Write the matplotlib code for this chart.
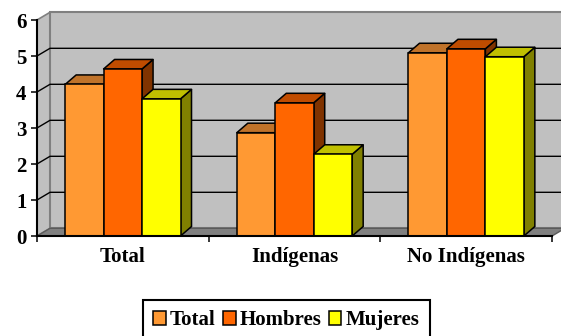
#
# Grouped 3D-style column chart: Total / Hombres / Mujeres by population group
#
import matplotlib.pyplot as plt
from matplotlib.patches import Polygon, Patch

categories = ['Total', 'Indígenas', 'No Indígenas']
series = ['Total', 'Hombres', 'Mujeres']
total = [4.21, 2.87, 5.09]
hombres = [4.64, 3.70, 5.20]
mujeres = [3.81, 2.27, 4.98]
yticks = [0, 1, 2, 3, 4, 5, 6]

front = ['#FF9933', '#FF6600', '#FFFF00']
top = ['#C0732A', '#C04C00', '#C0C000']
side = ['#804C19', '#803300', '#808000']

plt.rcParams['font.family'] = 'Liberation Serif'
plt.rcParams['font.weight'] = 'bold'

fig = plt.figure(figsize=(5.61, 3.36), dpi=100)
ax = fig.add_axes([37/561, 100/336, 515/561, 216/336])
ax.set_xlim(0, 3)
ax.set_ylim(0, 6)

# depth offsets in data units (walls and bars)
px_x = 3/515
px_y = 6/216
wx, wy = 13*px_x, 7.7*px_y
bx, by = 11*px_x, 9.5*px_y

# walls and floor
ax.add_patch(Polygon([(0, 0), (0, 6), (wx, 6+wy), (wx, wy)], closed=True,
                     fc='#C0C0C0', ec='#808080', lw=1.2, zorder=0, clip_on=False))
ax.add_patch(Polygon([(wx, wy), (wx, 6+wy), (3+wx, 6+wy), (3+wx, wy)], closed=True,
                     fc='#C0C0C0', ec='#808080', lw=1.5, zorder=0, clip_on=False))
ax.add_patch(Polygon([(0, 0), (3, 0), (3+wx, wy), (wx, wy)], closed=True,
                     fc='#808080', ec='#5a5a5a', lw=1.0, zorder=0.5, clip_on=False))

# gridlines on side and back wall
for v in yticks[1:-1]:
    ax.plot([0, wx, 3+wx], [v, v+wy, v+wy], color='black', lw=1.0, zorder=1,
            clip_on=False, solid_capstyle='butt')

# bars
w = 0.224
values = [total, hombres, mujeres]
k = 0
for i in range(len(categories)):
    for j in range(3):
        x0 = i + 0.5 + (j - 1.5)*w
        v = values[j][i]
        ax.add_patch(Polygon([(x0+w, 0), (x0+w, v), (x0+w+bx, v+by), (x0+w+bx, by)],
                             closed=True, fc=side[j], ec='black', lw=1.1,
                             zorder=2+k*0.01, clip_on=False))
        ax.add_patch(Polygon([(x0, v), (x0+bx, v+by), (x0+w+bx, v+by), (x0+w, v)],
                             closed=True, fc=top[j], ec='black', lw=1.1,
                             zorder=2+k*0.01, clip_on=False, joinstyle='round'))
        k += 1
for j in range(3):
    xs = [i + 0.5 + (j - 1)*w for i in range(len(categories))]
    ax.bar(xs, values[j], width=w, color=front[j], edgecolor='black',
           linewidth=1.1, zorder=3, clip_on=False)

# axes
for s in ['top', 'right']:
    ax.spines[s].set_visible(False)
ax.spines['left'].set_linewidth(1.5)
ax.spines['bottom'].set_linewidth(1.5)
ax.spines['left'].set_zorder(4)
ax.spines['bottom'].set_zorder(4)
ax.set_yticks(yticks)
ax.tick_params(axis='y', direction='out', length=4.5, width=1.1, pad=3,
               labelsize=15)
ax.set_xticks([0, 1, 2, 3])
ax.set_xticklabels([])
ax.set_xticks([0.5, 1.5, 2.5], minor=True)
ax.set_xticklabels(categories, minor=True, fontsize=15)
ax.tick_params(axis='x', which='major', direction='out', length=4.5, width=1.1)
ax.tick_params(axis='x', which='minor', length=0, pad=8)

handles = [Patch(fc=front[j], ec='black', lw=1.1) for j in range(3)]
leg = fig.legend(handles, series, loc='upper left',
                 bbox_to_anchor=(143/561, 1-300/336), ncol=3, fancybox=False,
                 edgecolor='black', framealpha=1, borderaxespad=0,
                 prop={'family': 'Liberation Serif', 'weight': 'bold', 'size': 15},
                 handlelength=0.6, handleheight=0.6, handletextpad=0.2,
                 columnspacing=0.35, borderpad=0.5)
leg.get_frame().set_linewidth(1.5)

fig.savefig('out.png', dpi=100)
